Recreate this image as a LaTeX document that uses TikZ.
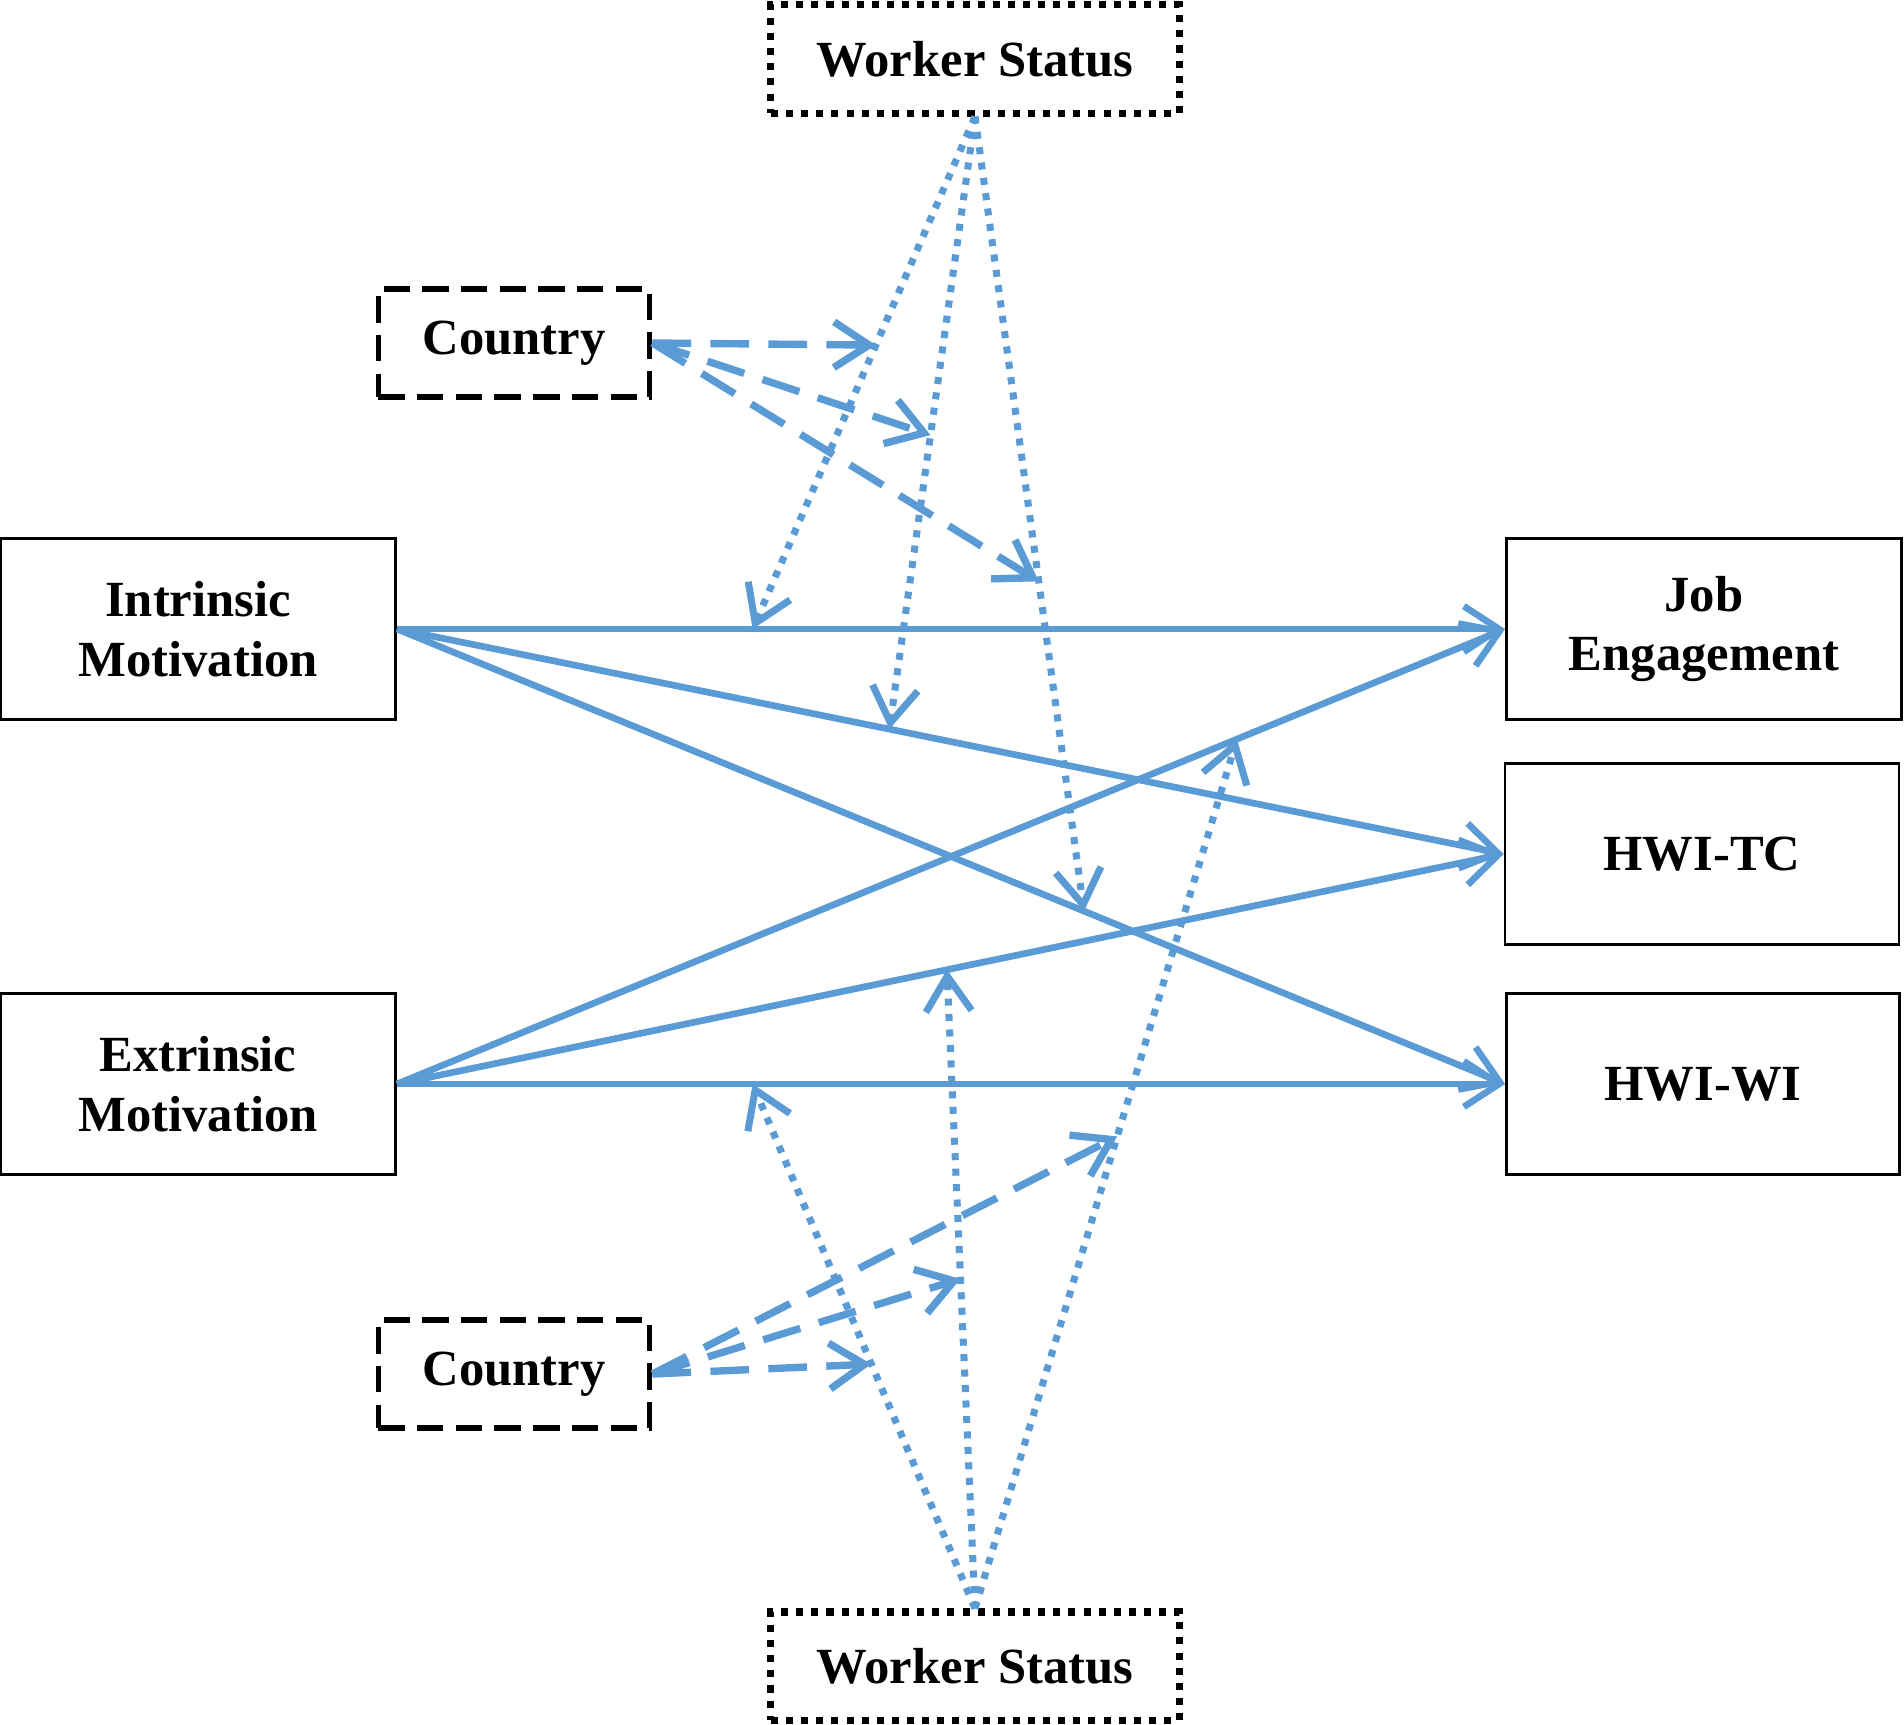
\documentclass[tikz,border=0pt]{standalone}
\usepackage{fontspec}
\setmainfont{Liberation Serif}
\usetikzlibrary{arrows.meta}
\definecolor{effblue}{HTML}{5B9BD5}

\begin{document}
\begin{tikzpicture}[x=0.01cm,y=-0.01cm,
    varbox/.style={draw, line width=0.75pt, minimum width=3.95cm, minimum height=1.81cm,
        inner sep=0pt, align=center, font=\fontsize{14.4}{17}\selectfont\bfseries},
    countrybox/.style={varbox, line width=1.6pt, dash pattern=on 7.5pt off 3.5pt,
        minimum width=2.71cm, minimum height=1.08cm},
    statusbox/.style={varbox, line width=2pt, dash pattern=on 2pt off 2.3pt,
        minimum width=4.08cm, minimum height=1.08cm},
    effect/.style={effblue, line width=1.9pt, -{Straight Barb[length=10pt,width=13pt]}},
    statuslink/.style={effect, line width=2pt, dash pattern=on 2pt off 2.4pt},
    countrylink/.style={effect, line width=2.1pt, dash pattern=on 11pt off 5.5pt}]

    \useasboundingbox (0,0) rectangle (1904,1724);

    % predictors and outcomes
    \node[varbox] (IM) at (198,629) {Intrinsic\\Motivation};
    \node[varbox] (EM) at (198,1084) {Extrinsic\\Motivation};
    \node[varbox] (JE) at (1704,629) {Job\\Engagement};
    \node[varbox, minimum width=3.94cm] (TC) at (1702,854) {HWI-TC};
    \node[varbox, minimum width=3.93cm] (WI) at (1703,1084) {HWI-WI};

    % moderators
    \node[statusbox] (WSt) at (975,59) {Worker Status};
    \node[countrybox] (Ct) at (514,343) {Country};
    \node[countrybox] (Cb) at (514,1374) {Country};
    \node[statusbox] (WSb) at (975,1666) {Worker Status};

    % main paths
    \draw[effect] (IM.east) -- (JE.west) coordinate[pos=0.321] (ij);
    \draw[effect] (IM.east) -- (TC.west) coordinate[pos=0.445] (it);
    \draw[effect] (IM.east) -- (WI.west) coordinate[pos=0.62] (iw);
    \draw[effect] (EM.east) -- (JE.west) coordinate[pos=0.758] (ej);
    \draw[effect] (EM.east) -- (TC.west) coordinate[pos=0.497] (et);
    \draw[effect] (EM.east) -- (WI.west) coordinate[pos=0.321] (ew);

    % worker status moderation
    \draw[statuslink] (WSt.south) -- (ij) coordinate[pos=0.446] (sij);
    \draw[statuslink] (WSt.south) -- (it) coordinate[pos=0.52] (sit);
    \draw[statuslink] (WSt.south) -- (iw) coordinate[pos=0.585] (siw);
    \draw[statuslink] (WSb.north) -- (ew) coordinate[pos=0.466] (sew);
    \draw[statuslink] (WSb.north) -- (et) coordinate[pos=0.516] (set);
    \draw[statuslink] (WSb.north) -- (ej) coordinate[pos=0.543] (sej);

    % country moderation
    \draw[countrylink] (Ct.east) -- (sij);
    \draw[countrylink] (Ct.east) -- (sit);
    \draw[countrylink] (Ct.east) -- (siw);
    \draw[countrylink] (Cb.east) -- (sew);
    \draw[countrylink] (Cb.east) -- (set);
    \draw[countrylink] (Cb.east) -- (sej);

\end{tikzpicture}
\end{document}
